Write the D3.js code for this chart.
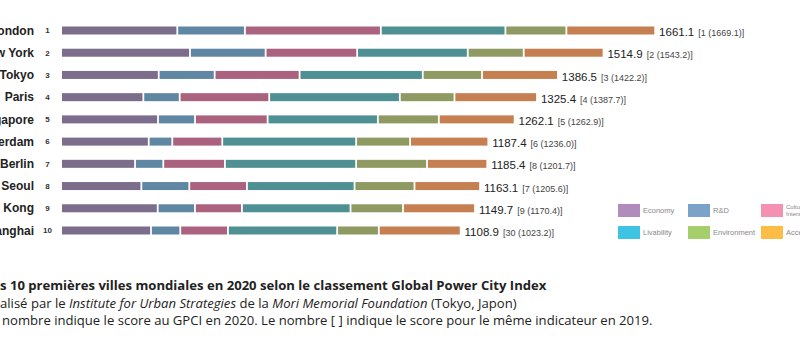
<!DOCTYPE html>
<html>
<head>
<meta charset="utf-8">
<script src="https://cdn.jsdelivr.net/npm/d3@7"></script>
<style>
  body { margin: 0; background: #fff; }
  svg { display: block; }
</style>
</head>
<body>
<div id="container"></div>
<script>
'use strict';

const width = 800,
      height = 350;

// data
const cities = ["London", "New York", "Tokyo", "Paris", "Singapore",
                "Amsterdam", "Berlin", "Seoul", "Hong Kong", "Shanghai"];
const ranks = [1, 2, 3, 4, 5, 6, 7, 8, 9, 10];
const totals = ["1661.1", "1514.9", "1386.5", "1325.4", "1262.1",
                "1187.4", "1185.4", "1163.1", "1149.7", "1108.9"];
const previous = ["[1 (1669.1)]", "[2 (1543.2)]", "[3 (1422.2)]", "[4 (1387.7)]", "[5 (1262.9)]",
                  "[6 (1236.0)]", "[8 (1201.7)]", "[7 (1205.6)]", "[9 (1170.4)]", "[30 (1023.2)]"];

const functions = ["Economy", "R&D", "Cultural Interaction", "Livability", "Environment", "Accessibility"];

const economy       = [324.4, 359.8, 272.5, 229.6, 270.6, 244.6, 206.4, 224.0, 269.7, 251.0];
const research      = [188.8, 211.2, 156.2, 101.5, 103.2,  65.8,  78.9, 133.9, 104.0,  81.7];
const culture       = [379.4, 255.5, 237.1, 249.9, 202.8, 139.5, 172.1, 160.9, 131.1, 133.1];
const livability    = [347.8, 308.8, 343.9, 364.6, 307.7, 373.8, 366.2, 300.4, 303.2, 304.9];
const environment   = [170.2, 156.2, 165.4, 152.6, 170.2, 150.6, 198.0, 167.4, 146.7, 116.3];
const accessibility = [248.0, 222.9, 212.0, 230.4, 211.7, 218.4, 168.2, 183.0, 200.8, 228.5];

const barColors    = ["#7b6d8b", "#5f86a2", "#ab627e", "#4f9094", "#8f9a62", "#c57f51"];
const legendColors = ["#b18bbb", "#7ba2c8", "#f491b2", "#3fc3e3", "#a5cf6b", "#fbbd46"];

const table = cities.map((c, i) => ({
  city: c,
  rank: ranks[i],
  total: totals[i],
  prev: previous[i],
  values: [economy[i], research[i], culture[i], livability[i], environment[i], accessibility[i]]
}));

const svg = d3.select("#container")
              .append("svg")
              .attr("width", width)
              .attr("height", height);

const xScale = d3.scaleLinear()
                 .domain([0, 1661.1])
                 .range([62, 657]);

const yScale = d3.scalePoint()
                 .domain(cities)
                 .range([30.5, 230.5]);

const barH = 8;

const row = svg.selectAll(".row")
               .data(table)
               .join("g")
               .attr("class", "row")
               .attr("transform", d => `translate(0, ${yScale(d.city)})`);

// stacked segments
row.selectAll("rect")
   .data(d => {
     let acc = 0;
     return d.values.map((v, j) => {
       const s = {x0: acc, x1: acc + v, j: j};
       acc += v;
       return s;
     });
   })
   .join("rect")
   .attr("x", s => xScale(s.x0))
   .attr("y", -barH / 2)
   .attr("width", s => Math.max(0, xScale(s.x1) - xScale(s.x0) - 1.8))
   .attr("height", barH)
   .attr("fill", s => barColors[s.j]);

row.append("text")
   .attr("x", 34)
   .attr("dy", "0.35em")
   .attr("text-anchor", "end")
   .attr("font-family", "Liberation Sans, Arial, sans-serif")
   .attr("font-weight", "bold")
   .attr("font-size", 12)
   .attr("fill", "#222")
   .text(d => d.city);

row.append("text")
   .attr("x", 47.5)
   .attr("dy", "0.35em")
   .attr("text-anchor", "middle")
   .attr("font-family", "Liberation Sans, Arial, sans-serif")
   .attr("font-weight", "bold")
   .attr("font-size", 8)
   .attr("fill", "#333")
   .text(d => d.rank);

const valueLabel = row.append("text")
   .attr("x", d => xScale(d3.sum(d.values)) + 3)
   .attr("dy", "0.35em")
   .attr("font-family", "Liberation Sans, Arial, sans-serif")
   .attr("fill", "#222");

valueLabel.append("tspan")
   .attr("font-size", 11.5)
   .text(d => d.total);

valueLabel.append("tspan")
   .attr("font-size", 9)
   .attr("dx", 4)
   .attr("fill", "#444")
   .text(d => d.prev);

// legend
const legendX = [618, 688, 761],
      legendY = [204, 226];

const legend = svg.selectAll(".legend")
                  .data(functions)
                  .join("g")
                  .attr("class", "legend")
                  .attr("transform", (d, i) => `translate(${legendX[i % 3]}, ${legendY[Math.floor(i / 3)]})`);

legend.append("rect")
      .attr("width", 22)
      .attr("height", 13)
      .attr("fill", (d, i) => legendColors[i]);

legend.append("text")
      .attr("x", 25)
      .attr("y", 6.5)
      .attr("font-family", "Liberation Sans, Arial, sans-serif")
      .attr("font-size", 7.5)
      .attr("fill", "#888")
      .each(function(d) {
        const words = d.split(" ");
        const t = d3.select(this);
        if (words.length === 1) {
          t.attr("dy", "0.35em").text(d);
        } else {
          t.attr("font-size", 6);
          words.forEach((w, k) => {
            t.append("tspan")
             .attr("x", 25)
             .attr("y", 6.5 + (k - 0.5) * 6.3)
             .attr("dy", "0.35em")
             .text(w);
          });
        }
      });

// caption, the page cuts its first letters on the left
const caption = [
  {y: 290, weight: "bold", prefix: "Le", offset: 0,
   parts: [["Les 10 premières villes mondiales en 2020 selon le classement Global Power City Index", false]]},
  {y: 307.5, weight: "normal", prefix: "Ré", offset: 0,
   parts: [["Réalisé par le ", false], ["Institute for Urban Strategies", true], [" de la ", false],
           ["Mori Memorial Foundation", true], [" (Tokyo, Japon)", false]]},
  {y: 325, weight: "normal", prefix: "Le ", offset: 2,
   parts: [["Le nombre indique le score au GPCI en 2020. Le nombre [ ] indique le score pour le même indicateur en 2019.", false]]}
];

const capFont = "Open Sans, sans-serif",
      capSize = 13.1;

caption.forEach(line => {
  const probe = svg.append("text")
                   .attr("font-family", capFont)
                   .attr("font-size", capSize)
                   .attr("font-weight", line.weight)
                   .attr("xml:space", "preserve")
                   .text(line.prefix);
  const shift = probe.node().getComputedTextLength();
  probe.remove();

  const t = svg.append("text")
               .attr("x", line.offset - shift)
               .attr("y", line.y)
               .attr("font-family", capFont)
               .attr("font-size", capSize)
               .attr("font-weight", line.weight)
               .attr("fill", "#222")
               .attr("xml:space", "preserve");
  line.parts.forEach(p => {
    t.append("tspan")
     .attr("font-style", p[1] ? "italic" : "normal")
     .text(p[0]);
  });
});
</script>
</body>
</html>
